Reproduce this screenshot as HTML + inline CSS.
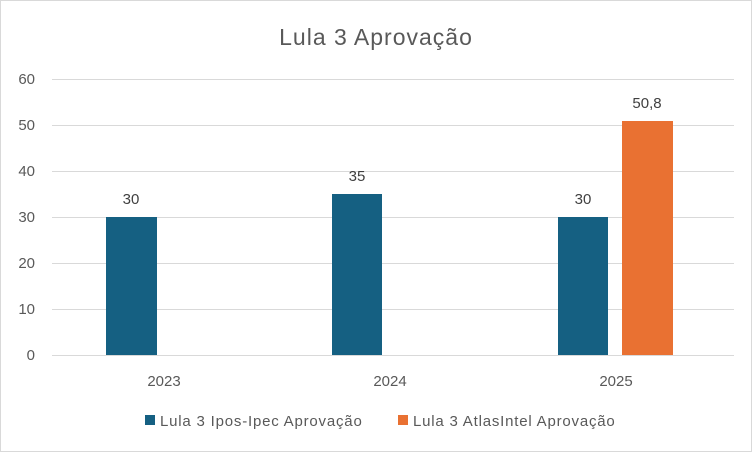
<!DOCTYPE html>
<html><head><meta charset="utf-8"><style>
html,body{margin:0;padding:0;background:#fff}
svg{display:block}
text{font-family:"Liberation Sans",sans-serif}
</style></head><body>
<svg width="752" height="452" xmlns="http://www.w3.org/2000/svg">
<rect x="0.5" y="0.5" width="751" height="451" fill="#fff" stroke="#d9d9d9"/>
<text x="376" y="45" font-size="23" fill="#595959" text-anchor="middle" letter-spacing="1">Lula 3 Aprovação</text>
<g stroke="#d9d9d9" stroke-width="1">
<line x1="52" x2="734" y1="79.5" y2="79.5"/>
<line x1="52" x2="734" y1="125.5" y2="125.5"/>
<line x1="52" x2="734" y1="171.5" y2="171.5"/>
<line x1="52" x2="734" y1="217.5" y2="217.5"/>
<line x1="52" x2="734" y1="263.5" y2="263.5"/>
<line x1="52" x2="734" y1="309.5" y2="309.5"/>
<line x1="52" x2="734" y1="355.5" y2="355.5"/>
</g>
<g font-size="15" fill="#595959" text-anchor="end">
<text x="35" y="84">60</text><text x="35" y="130">50</text><text x="35" y="176">40</text>
<text x="35" y="222">30</text><text x="35" y="268">20</text><text x="35" y="314">10</text>
<text x="35" y="360">0</text>
</g>
<rect x="106" y="217" width="51" height="138" fill="#156082"/>
<rect x="332" y="194" width="50" height="161" fill="#156082"/>
<rect x="558" y="217" width="50" height="138" fill="#156082"/>
<rect x="622" y="121" width="51" height="234" fill="#e97132"/>
<g font-size="15" fill="#404040" text-anchor="middle">
<text x="131" y="204">30</text><text x="357" y="181">35</text>
<text x="583" y="204">30</text><text x="647" y="108">50,8</text>
</g>
<g font-size="15" fill="#595959" text-anchor="middle">
<text x="164" y="386">2023</text><text x="390" y="386">2024</text><text x="616" y="386">2025</text>
</g>
<rect x="145" y="415" width="10" height="10" fill="#156082"/>
<text x="160" y="426" font-size="15" fill="#595959" letter-spacing="0.8">Lula 3 Ipos-Ipec Aprovação</text>
<rect x="398" y="415" width="10" height="10" fill="#e97132"/>
<text x="413" y="426" font-size="15" fill="#595959" letter-spacing="0.8">Lula 3 AtlasIntel Aprovação</text>
</svg>
</body></html>
